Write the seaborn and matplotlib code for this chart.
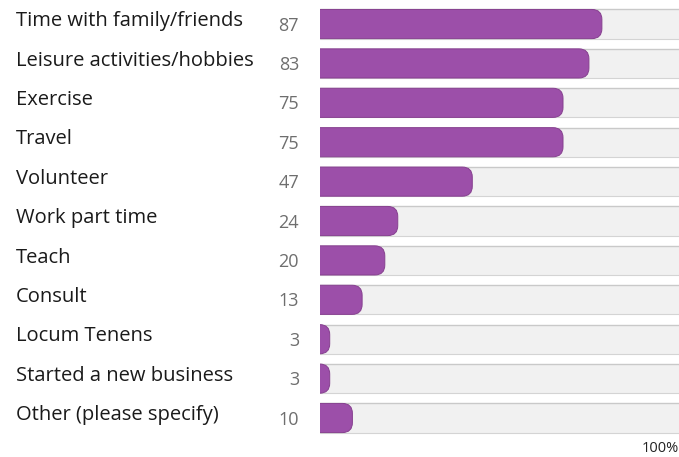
import matplotlib
matplotlib.use("Agg")
import matplotlib.pyplot as plt
import matplotlib.transforms as mtransforms
from matplotlib.patches import FancyBboxPatch
import seaborn as sns
import pandas as pd

categories = [
    "Time with family/friends",
    "Leisure activities/hobbies",
    "Exercise",
    "Travel",
    "Volunteer",
    "Work part time",
    "Teach",
    "Consult",
    "Locum Tenens",
    "Started a new business",
    "Other (please specify)",
]
percents = [87, 83, 75, 75, 47, 24, 20, 13, 3, 3, 10]

PURPLE = "#9c4fa9"
TRACK = "#f1f1f1"
XMAX = 110.8

sns.set_theme(style="white")
plt.rcParams["font.family"] = ["Open Sans", "DejaVu Sans"]

df = pd.DataFrame({"category": categories, "pct": percents})
df["track"] = XMAX

W, H = 679, 457
fig = plt.figure(figsize=(W / 100, H / 100), dpi=100)
ax = fig.add_axes([320 / W, 0, (W - 320) / W, 1])

sns.barplot(data=df, y="category", x="track", color=TRACK, width=0.74,
            saturation=1, ax=ax, edgecolor="none")
sns.barplot(data=df, y="category", x="pct", color=PURPLE, width=0.74,
            saturation=1, ax=ax, edgecolor="none")

ax.set_xlim(0, XMAX)
ax.set_ylim(10.99, -0.61)
ax.axis("off")

# track borders
for p in ax.containers[0]:
    y0, h = p.get_y(), p.get_height()
    ax.plot([0, XMAX], [y0, y0], color="#c9c9c9", lw=1.0)
    ax.plot([0, XMAX], [y0 + h, y0 + h], color="#d4d4d4", lw=0.8)

# rounded right ends on value bars (left end pushed past the axes and clipped)
px_x = (W - 320) / XMAX
px_y = H / (10.99 + 0.61)
aspect = px_x / px_y
r = 10 / px_x
for p in ax.containers[1]:
    x0, y0, w, h = p.get_x(), p.get_y(), p.get_width(), p.get_height()
    p.set_visible(False)
    ax.add_patch(FancyBboxPatch((x0 - r, y0), w + r, h,
                                boxstyle=f"round,pad=0,rounding_size={r}",
                                mutation_aspect=aspect, fc=PURPLE, ec="#86408f",
                                lw=0.7, zorder=3))

lab_tr = mtransforms.blended_transform_factory(fig.transFigure, ax.transData)
for i, (cat, v) in enumerate(zip(categories, percents)):
    ax.text(16 / W, i - 0.07, cat, transform=lab_tr, ha="left", va="center",
            fontsize=14.5, color="#1a1a1a")
    ax.text(299 / W, i + 0.04, str(v), transform=lab_tr, ha="right", va="center",
            fontsize=13, color="#6e6e6e")

fig.text(679 / W, 1 - 448 / H, "100%", ha="right", va="center", fontsize=10.5,
         color="#222222")

fig.savefig("out.png", dpi=100)
